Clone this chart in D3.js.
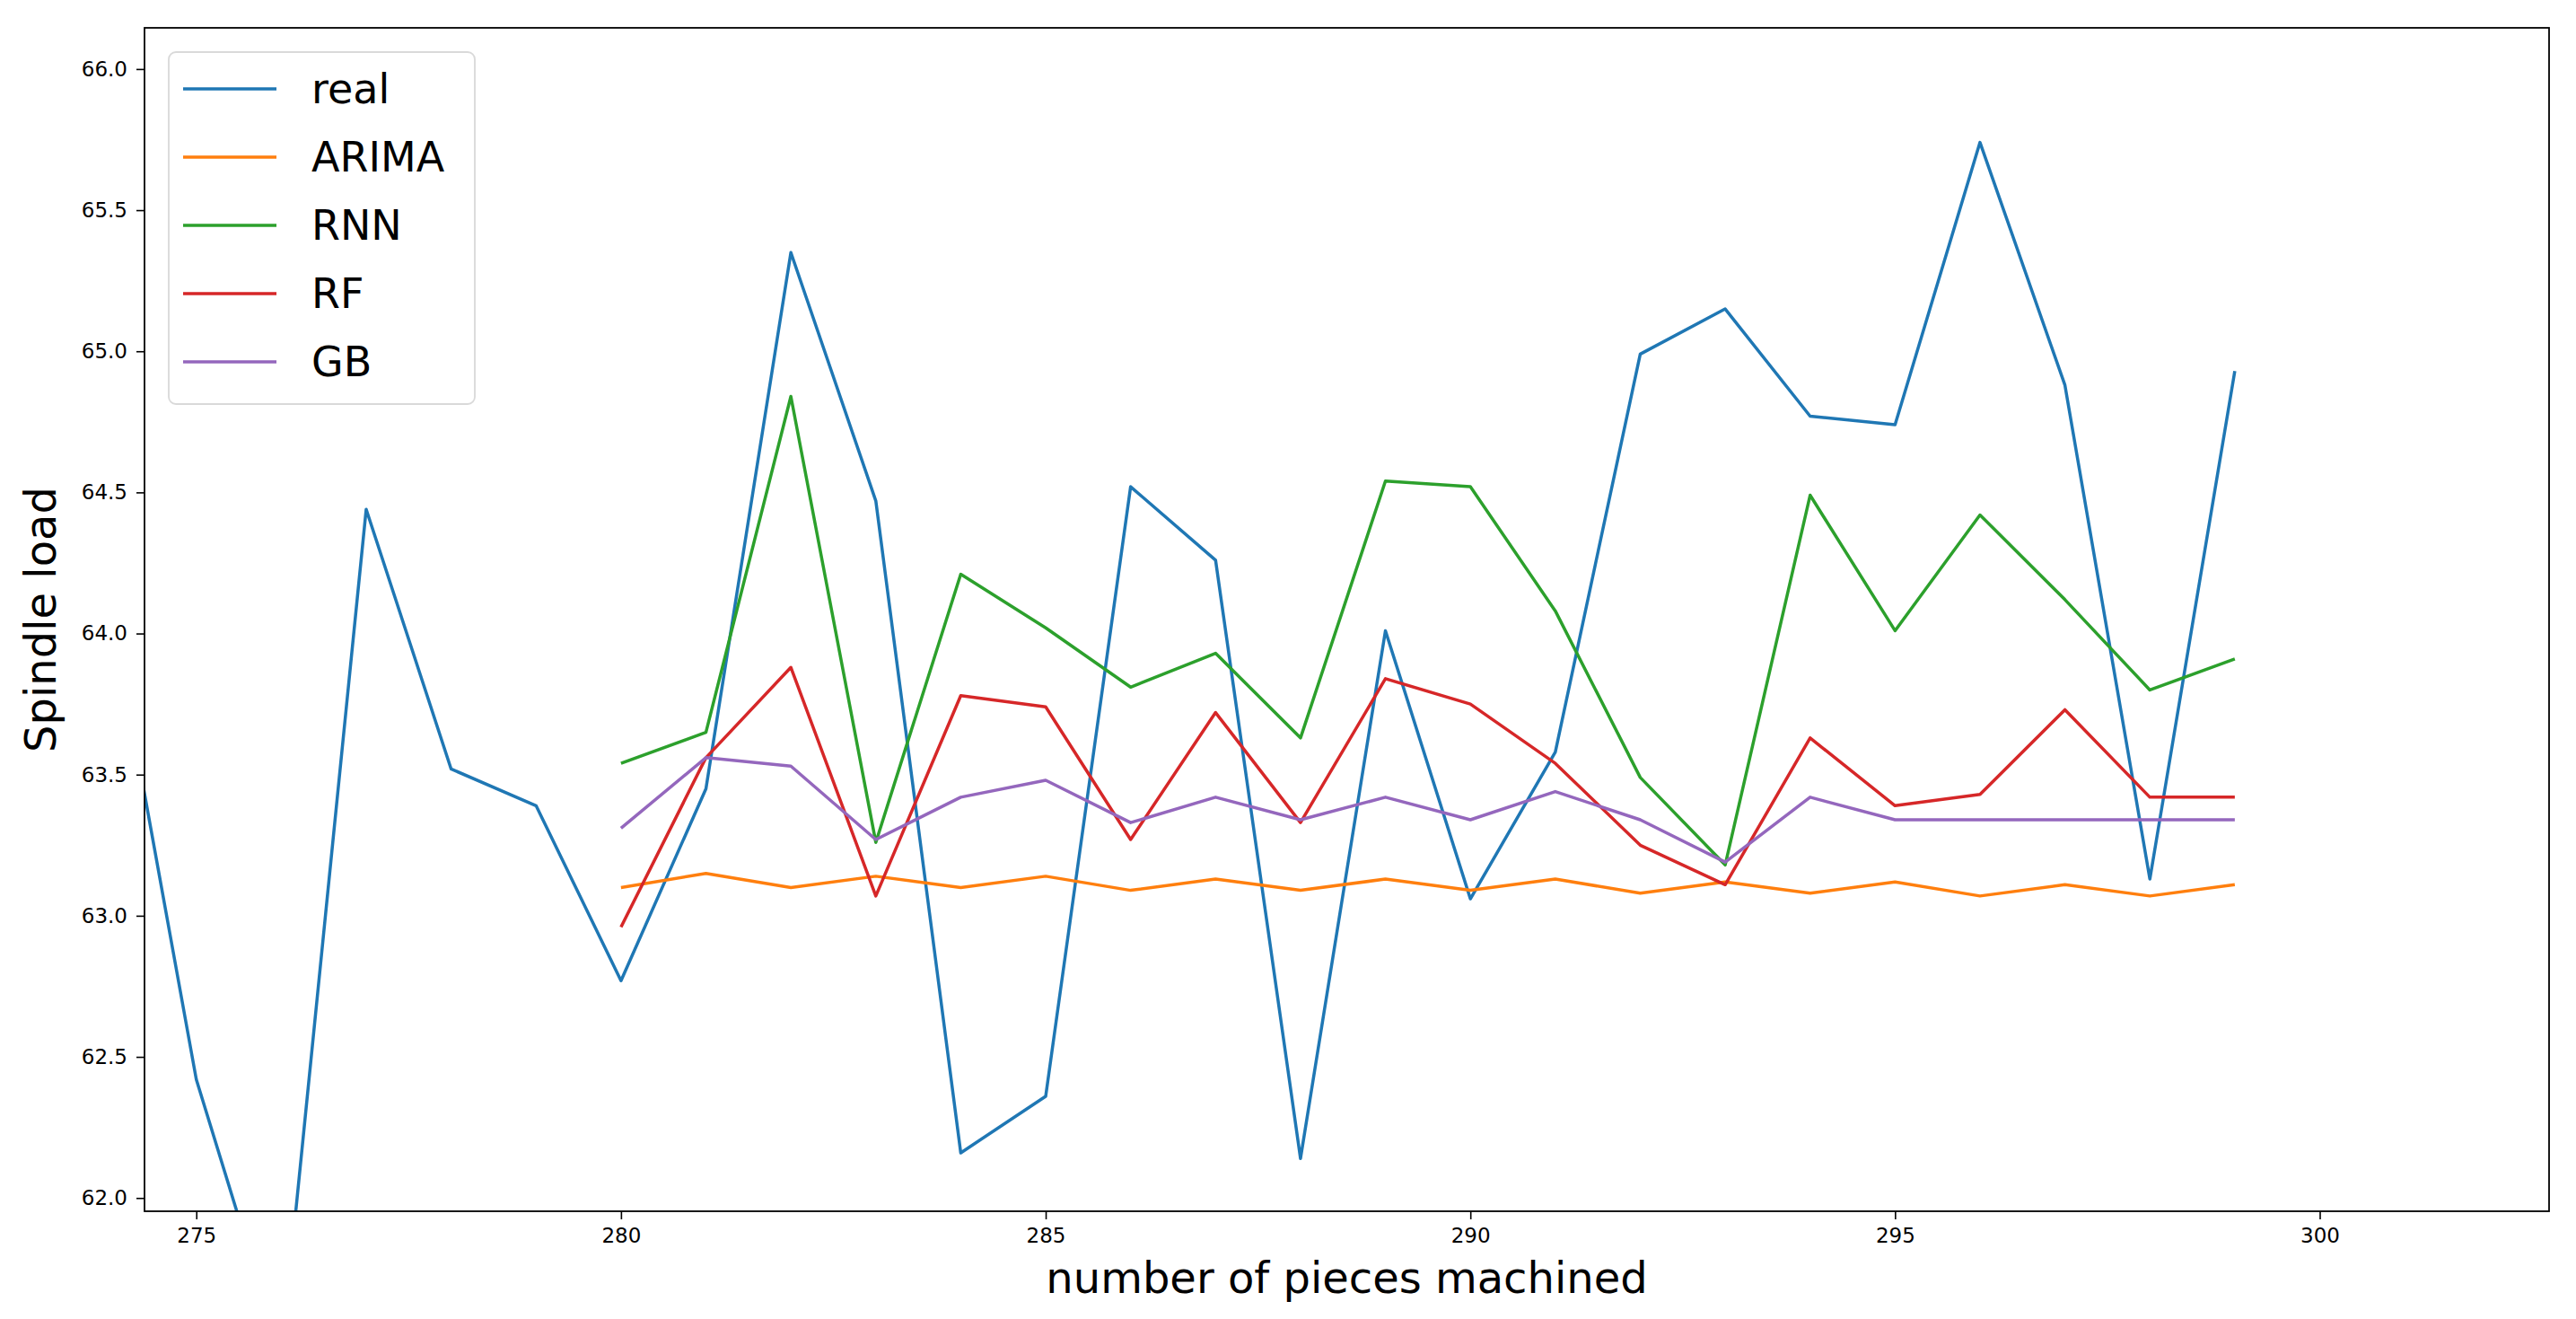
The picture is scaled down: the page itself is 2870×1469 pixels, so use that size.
<!DOCTYPE html>
<html><head><meta charset="utf-8">
<script src="https://cdn.jsdelivr.net/npm/d3@7"></script>
<style>body{margin:0;background:#fff}svg{display:block;font-family:"DejaVu Sans",sans-serif}</style>
</head><body><svg id="c" width="2870" height="1469"></svg>
<script>
var realX = d3.range(274, 300);
var realY = [64.08, 62.42, 61.44, 64.44, 63.52, 63.39, 62.77, 63.45, 65.35, 64.47, 62.16, 62.36, 64.52, 64.26, 62.14, 64.01, 63.06, 63.58, 64.99, 65.15, 64.77, 64.74, 65.74, 64.88, 63.13, 64.93];
var predX = d3.range(280, 300);
var arima = [63.10, 63.15, 63.10, 63.14, 63.10, 63.14, 63.09, 63.13, 63.09, 63.13, 63.09, 63.13, 63.08, 63.12, 63.08, 63.12, 63.07, 63.11, 63.07, 63.11];
var rnn = [63.54, 63.65, 64.84, 63.26, 64.21, 64.02, 63.81, 63.93, 63.63, 64.54, 64.52, 64.08, 63.49, 63.18, 64.49, 64.01, 64.42, 64.12, 63.80, 63.91];
var rf = [62.96, 63.56, 63.88, 63.07, 63.78, 63.74, 63.27, 63.72, 63.33, 63.84, 63.75, 63.54, 63.25, 63.11, 63.63, 63.39, 63.43, 63.73, 63.42, 63.42];
var gb = [63.31, 63.56, 63.53, 63.27, 63.42, 63.48, 63.33, 63.42, 63.34, 63.42, 63.34, 63.44, 63.34, 63.19, 63.42, 63.34, 63.34, 63.34, 63.34, 63.34];
var xTicks = [275, 280, 285, 290, 295, 300];
var yTicks = [62.0, 62.5, 63.0, 63.5, 64.0, 64.5, 65.0, 65.5, 66.0];

var series = [
    {name: 'real', x: realX, y: realY, color: '#1f77b4'},
    {name: 'ARIMA', x: predX, y: arima, color: '#ff7f0e'},
    {name: 'RNN', x: predX, y: rnn, color: '#2ca02c'},
    {name: 'RF', x: predX, y: rf, color: '#d62728'},
    {name: 'GB', x: predX, y: gb, color: '#9467bd'}
];

var L = 161, R = 2840, T = 31, B = 1349;
var svg = d3.select('#c');
var x = d3.scaleLinear().domain([274.39, 302.7]).range([L, R]);
var y = d3.scaleLinear().domain([61.953, 66.146]).range([B, T]);

svg.append('clipPath').attr('id', 'clip').append('rect')
    .attr('x', L).attr('y', T).attr('width', R - L).attr('height', B - T);

var line = d3.line().x(function(d) { return x(d[0]); }).y(function(d) { return y(d[1]); });
svg.append('g').attr('clip-path', 'url(#clip)')
    .selectAll('path').data(series).enter().append('path')
    .attr('d', function(s) { return line(s.x.map(function(v, i) { return [v, s.y[i]]; })); })
    .attr('fill', 'none').attr('stroke', function(s) { return s.color; })
    .attr('stroke-width', 3.5).attr('stroke-linejoin', 'round');

var xAxis = svg.append('g').attr('transform', 'translate(0,' + B + ')')
    .call(d3.axisBottom(x).tickValues(xTicks).tickFormat(d3.format('d')).tickSize(9).tickPadding(10));
var yAxis = svg.append('g').attr('transform', 'translate(' + L + ',0)')
    .call(d3.axisLeft(y).tickValues(yTicks).tickFormat(d3.format('.1f')).tickSize(9).tickPadding(10));
[xAxis, yAxis].forEach(function(a) {
    a.select('.domain').remove();
    a.selectAll('text').attr('font-size', 23).attr('fill', '#000').attr('font-family', 'DejaVu Sans');
    a.selectAll('line').attr('stroke', '#000').attr('stroke-width', 1.6);
});
svg.append('rect').attr('x', L).attr('y', T).attr('width', R - L).attr('height', B - T)
    .attr('fill', 'none').attr('stroke', '#000').attr('stroke-width', 1.8);

svg.append('text').attr('x', (L + R) / 2).attr('y', 1440).attr('text-anchor', 'middle')
    .attr('font-size', 48).text('number of pieces machined');
svg.append('text').attr('transform', 'translate(62,' + (T + B) / 2 + ') rotate(-90)')
    .attr('text-anchor', 'middle').attr('font-size', 48).text('Spindle load');

var lg = svg.append('g');
lg.append('rect').attr('x', 188).attr('y', 58).attr('width', 341).attr('height', 392).attr('rx', 8)
    .attr('fill', '#fff').attr('fill-opacity', 0.8).attr('stroke', '#d9d9d9').attr('stroke-width', 1.8);
var items = lg.selectAll('g.item').data(series).enter().append('g')
    .attr('transform', function(d, i) { return 'translate(0,' + (99 + i * 76) + ')'; });
items.append('line').attr('x1', 204).attr('x2', 308).attr('stroke', function(d) { return d.color; }).attr('stroke-width', 3.5);
items.append('text').attr('x', 347).attr('dy', '0.35em').attr('font-size', 46).text(function(d) { return d.name; });
</script></body></html>
